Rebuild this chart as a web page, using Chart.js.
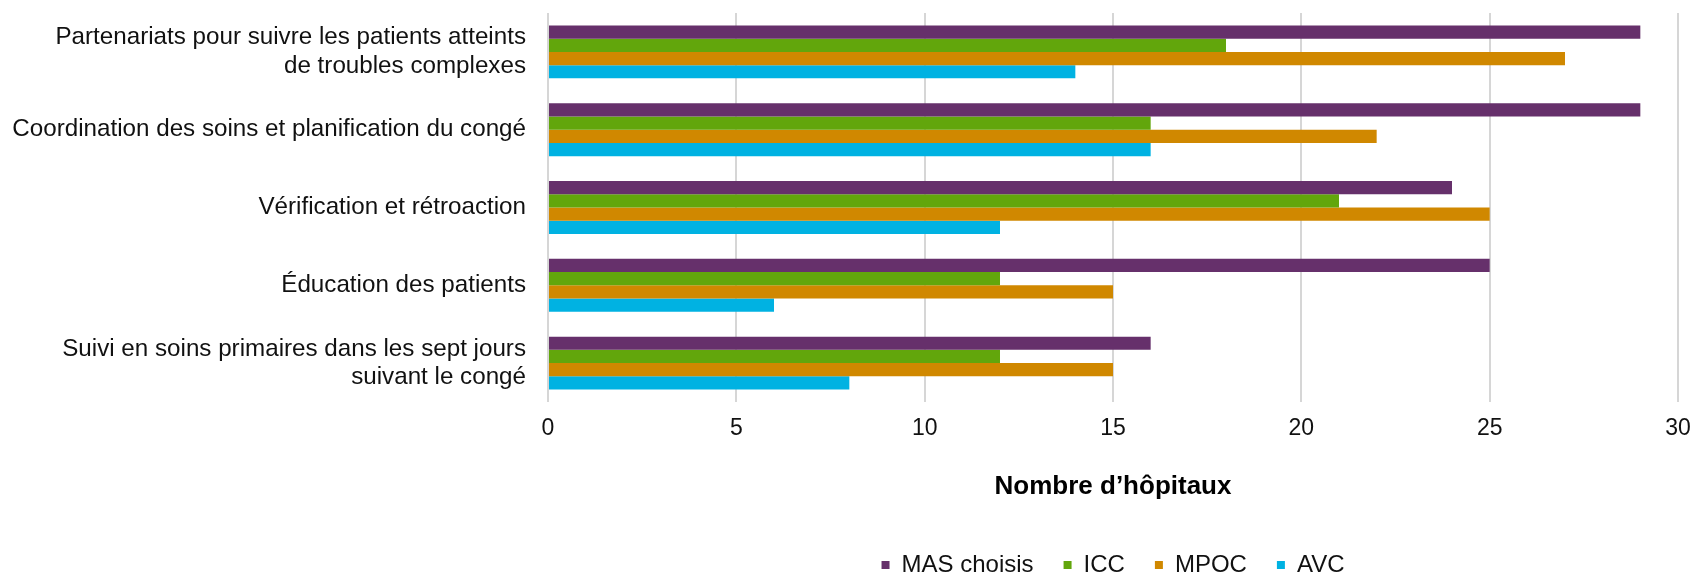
<!DOCTYPE html>
<html lang="fr">
<head>
<meta charset="utf-8">
<title>Nombre d’hôpitaux par pratique</title>
<script src="https://cdn.jsdelivr.net/npm/chart.js@4/dist/chart.umd.min.js"></script>
<style>
  html, body { margin: 0; padding: 0; background: #ffffff; }
  #wrap { position: relative; width: 1694px; height: 574px; }
</style>
</head>
<body>
<div id="wrap"><canvas id="chart" width="1694" height="574"></canvas></div>
<script>
// Practices (y categories); two-line labels are given as arrays
const categories = [
  ['Partenariats pour suivre les patients atteints', 'de troubles complexes'],
  'Coordination des soins et planification du congé',
  'Vérification et rétroaction',
  'Éducation des patients',
  ['Suivi en soins primaires dans les sept jours', 'suivant le congé']
];

// Number of hospitals per practice, by condition
const masChoisis = [29, 29, 24, 25, 16];
const icc        = [18, 16, 21, 12, 12];
const mpoc       = [27, 22, 25, 15, 15];
const avc        = [14, 16, 12, 6, 8];

const seriesNames = ['MAS choisis', 'ICC', 'MPOC', 'AVC'];
const xTicks = [0, 5, 10, 15, 20, 25, 30];
const axisTitle = 'Nombre d’hôpitaux';

const colors = ['#66306B', '#62A60C', '#D08800', '#00B2E2'];
const FONT = '"Liberation Sans", Arial, Helvetica, sans-serif';

const seriesValues = [masChoisis, icc, mpoc, avc];

// Keep the plot edges fixed: no extra room reserved for half-labels at the ends
function noEdgePadding(axis) {
  axis.paddingTop = 0;
  axis.paddingBottom = 0;
  axis.paddingLeft = 0;
  axis.paddingRight = 0;
}

new Chart(document.getElementById('chart'), {
  type: 'bar',
  data: {
    labels: categories,
    datasets: seriesValues.map((vals, i) => ({
      label: seriesNames[i],
      data: vals,
      backgroundColor: colors[i],
      borderWidth: 0,
      categoryPercentage: 0.68,
      barPercentage: 1.0
    }))
  },
  options: {
    indexAxis: 'y',
    responsive: false,
    animation: false,
    layout: {
      autoPadding: false,
      padding: { top: 13, right: 16, left: 0, bottom: -13 }
    },
    scales: {
      x: {
        min: xTicks[0],
        max: xTicks[xTicks.length - 1],
        afterBuildTicks: (axis) => { axis.ticks = xTicks.map(v => ({ value: v })); },
        afterFit: (axis) => { axis.height = 121; noEdgePadding(axis); },
        grid: { color: '#d6d6d6', lineWidth: 2, drawTicks: false },
        border: { display: false },
        ticks: {
          padding: 13,
          color: '#111111',
          font: { family: FONT, size: 23 }
        },
        title: {
          display: true,
          text: axisTitle,
          color: '#000000',
          font: { family: FONT, size: 26, weight: 'bold' },
          padding: { top: 10, bottom: 21 }
        }
      },
      y: {
        afterFit: (axis) => { axis.width = 548; noEdgePadding(axis); },
        grid: { display: false, drawTicks: false },
        border: { display: false },
        ticks: {
          padding: 22,
          color: '#111111',
          font: { family: FONT, size: 24.2, lineHeight: 1.17 }
        }
      }
    },
    plugins: {
      legend: {
        position: 'bottom',
        fullSize: false,
        labels: {
          boxWidth: 8,
          boxHeight: 8,
          padding: 30,
          color: '#111111',
          font: { family: FONT, size: 24 }
        }
      },
      tooltip: { enabled: false }
    }
  }
});
</script>
</body>
</html>
